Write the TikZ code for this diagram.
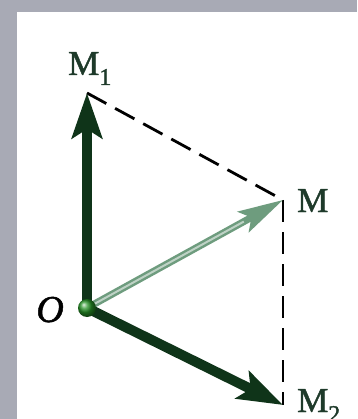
\documentclass[tikz,border=0pt]{standalone}
\usepackage{fontspec}
\setmainfont{Liberation Serif}
\newfontfamily\lblfont{Liberation Serif}[FakeBold=1.3]
\usetikzlibrary{arrows.meta,calc}
\definecolor{frame}{HTML}{A8AAB5}
\definecolor{dkgreen}{HTML}{0F3419}
\definecolor{ltgreen}{HTML}{6E9C7E}
\definecolor{lblgreen}{HTML}{1E3A2A}
\tikzset{
  vec/.style={line width=10pt, dkgreen, -{Stealth[length=45pt, width=30pt, inset=9pt]}},
  resvec/.style={line width=7pt, ltgreen, -{Stealth[length=45pt, width=23pt, inset=9pt]}},
  proj/.style={line width=2.8pt, black, dash pattern=on 22pt off 10pt},
  lbl/.style={text=lblgreen, inner sep=0pt, font=\lblfont\fontsize{35}{35}\selectfont},
}
\begin{document}
\begin{tikzpicture}[x=1pt, y=-1pt]
\useasboundingbox (0,0) rectangle (357,419);
\fill[white] (0,0) rectangle (357,419);
\fill[frame] (0,0) rectangle (357,12);
\fill[frame] (0,0) rectangle (17,419);
\coordinate (O) at (87,308);
\coordinate (M1) at (87,93);
\coordinate (M) at (283,200);
\coordinate (M2) at (283,405);
\draw[proj] (M1) -- (M);
\draw[proj] (M) -- (M2);
\draw[vec] (O) -- (M1);
\draw[vec] (O) -- (M2);
\draw[resvec] (O) -- (M);
\draw[line width=2pt, ltgreen!45!white] (O) -- ($(O)!0.8!(M)$);
\shade[ball color=green!50!black!85!white] (O) circle (9pt);
\node[lbl, anchor=base west] (lM1) at (68,75) {M\raisebox{-10pt}{\fontsize{24}{24}\selectfont 1}};
\node[lbl, anchor=base west] (lM) at (297,212) {M};
\node[lbl, anchor=base east, text=black, font=\lblfont\fontsize{38}{38}\selectfont] (lO) at (64,322) {\textit{O}};
\node[lbl, anchor=base west] (lM2) at (297,412) {M\raisebox{-10pt}{\fontsize{24}{24}\selectfont 2}};
\end{tikzpicture}
\end{document}
